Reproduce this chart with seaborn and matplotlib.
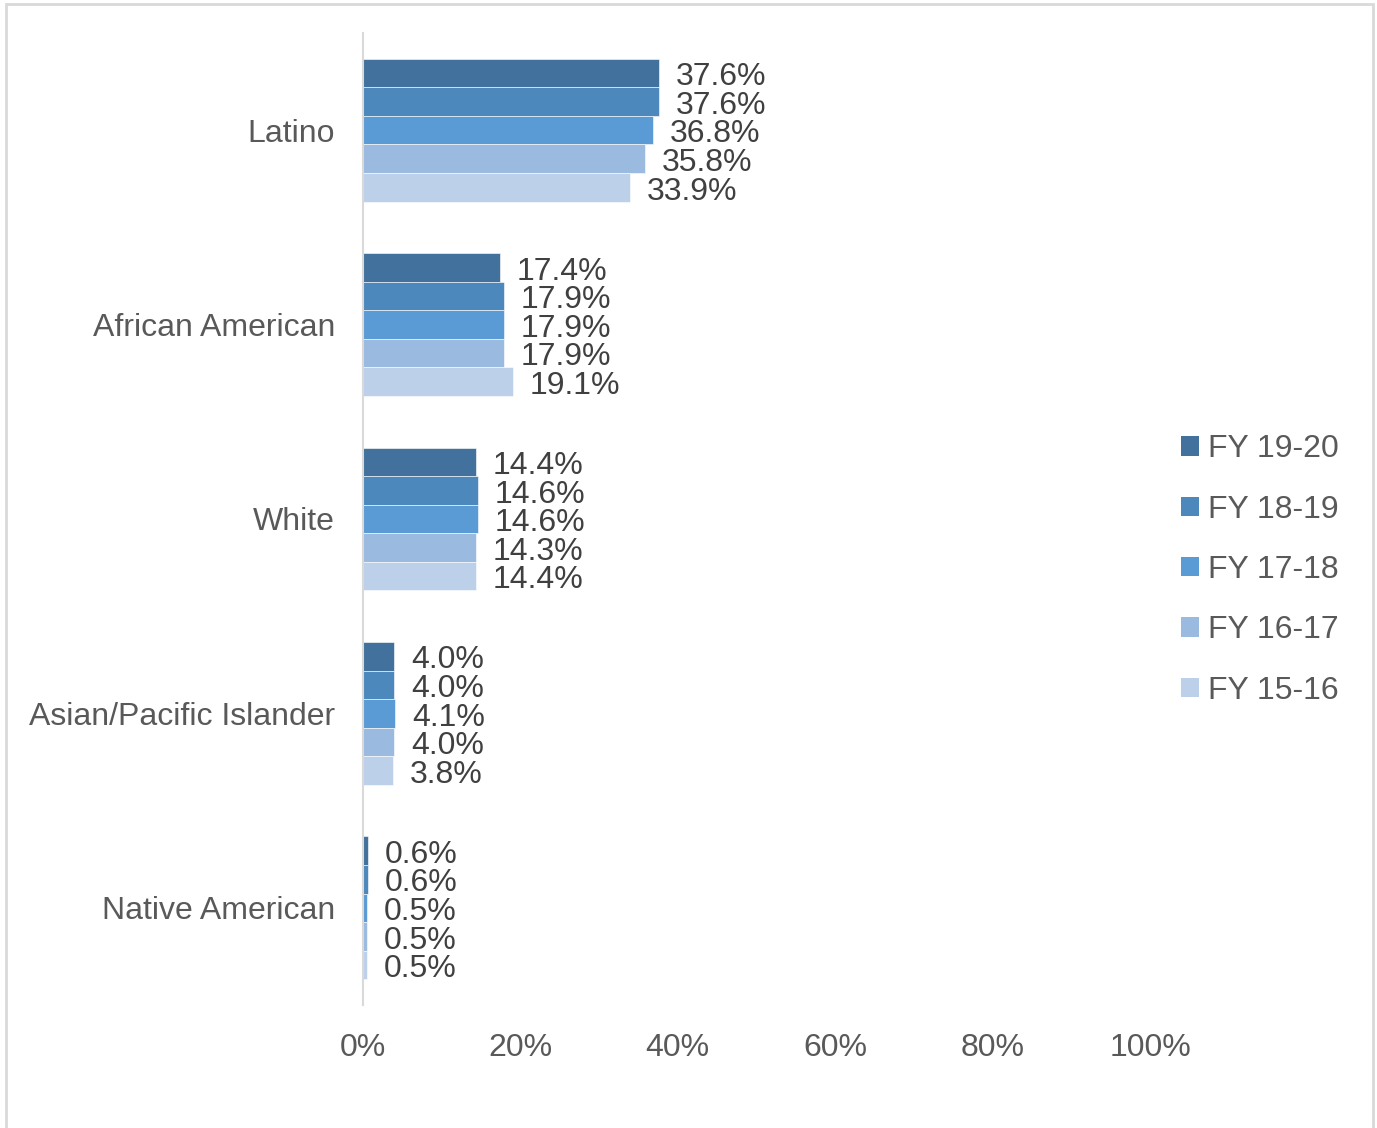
import matplotlib
matplotlib.use("Agg")
import matplotlib.pyplot as plt
from matplotlib.patches import Patch, Rectangle
from matplotlib.ticker import FuncFormatter
from matplotlib import font_manager
import pandas as pd
import seaborn as sns

groups = ["Latino", "African American", "White", "Asian/Pacific Islander", "Native American"]
years = ["FY 19-20", "FY 18-19", "FY 17-18", "FY 16-17", "FY 15-16"]
fy_19_20 = [37.6, 17.4, 14.4, 4.0, 0.6]
fy_18_19 = [37.6, 17.9, 14.6, 4.0, 0.6]
fy_17_18 = [36.8, 17.9, 14.6, 4.1, 0.5]
fy_16_17 = [35.8, 17.9, 14.3, 4.0, 0.5]
fy_15_16 = [33.9, 19.1, 14.4, 3.8, 0.5]
x_ticks = [0, 20, 40, 60, 80, 100]

colors = ["#41719C", "#4C88BC", "#5B9BD5", "#9BBAE0", "#BDD0EA"]

series = [fy_19_20, fy_18_19, fy_17_18, fy_16_17, fy_15_16]
df = pd.DataFrame(
    [(g, y, v) for y, vals in zip(years, series) for g, v in zip(groups, vals)],
    columns=["group", "year", "share"],
)

sns.set_theme(style="white")
plt.rcParams["font.family"] = ["Liberation Sans", "DejaVu Sans"]

W, H = 1377, 1128
fig = plt.figure(figsize=(W / 100, H / 100), dpi=100)
ax = fig.add_axes([363 / W, 1 - 1005 / H, (1150 - 363) / W, (1005 - 33) / H])

sns.barplot(
    data=df, x="share", y="group", hue="year", order=groups, hue_order=years,
    palette=colors, saturation=1, orient="h", width=0.735, gap=0, ax=ax,
    edgecolor="white", linewidth=0.4, legend=False,
)

for cont in ax.containers:
    anns = ax.bar_label(cont, fmt="%.1f%%", padding=12, fontsize=23, color="#404040")
    for a in anns:
        a.xyann = (12, -3)

ax.set_xlim(0, 100)
ax.set_xticks(x_ticks)
ax.xaxis.set_major_formatter(FuncFormatter(lambda v, p: f"{v:.0f}%"))
ax.set_xlabel("")
ax.set_ylabel("")

narrow = "Liberation Sans Narrow"
have_narrow = any(f.name == narrow for f in font_manager.fontManager.ttflist)
for lbl in ax.get_xticklabels():
    lbl.set_fontsize(23)
    lbl.set_color("#595959")
    if have_narrow:
        lbl.set_family([narrow, "DejaVu Sans"])
for lbl in ax.get_yticklabels():
    lbl.set_fontsize(23)
    lbl.set_color("#595959")
ax.tick_params(axis="x", length=0, pad=20)
ax.tick_params(axis="y", length=0, pad=20)

for side in ["top", "right", "bottom"]:
    ax.spines[side].set_visible(False)
ax.spines["left"].set_color("#D9D9D9")
ax.spines["left"].set_linewidth(1.5)

handles = [Patch(facecolor=c, edgecolor="none") for c in colors]
fig.legend(
    handles, years, loc="center left", bbox_to_anchor=(1181 / W, 1 - 570 / H),
    frameon=False, fontsize=23, handlelength=0.55, handleheight=0.55,
    handletextpad=0.3, labelspacing=0.95, borderpad=0, borderaxespad=0,
    labelcolor="#595959",
)

fig.patches.append(Rectangle((6 / W, -0.05), (1373 - 6) / W, 1.05 - 4 / H,
                             transform=fig.transFigure, fill=False,
                             edgecolor="#D9D9D9", linewidth=2))

fig.savefig("out.png", dpi=100)
